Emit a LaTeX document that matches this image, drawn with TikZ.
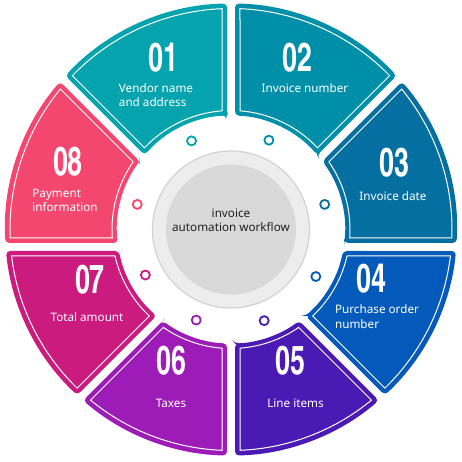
\documentclass[tikz,border=0pt]{standalone}
\usepackage{fontspec}
\setmainfont{Noto Sans}
\newfontfamily\numfont{texgyreheroscn-bold.otf}

\definecolor{c01}{HTML}{04A3AD}
\definecolor{c02}{HTML}{008FA9}
\definecolor{c03}{HTML}{066FA2}
\definecolor{c04}{HTML}{045ABA}
\definecolor{c05}{HTML}{4B19B4}
\definecolor{c06}{HTML}{9D1BB6}
\definecolor{c07}{HTML}{CC1B7E}
\definecolor{c08}{HTML}{F3476F}
\definecolor{hubring}{HTML}{EDEDED}
\definecolor{hubedge}{HTML}{D2D2D2}
\definecolor{hubcore}{HTML}{D9D9D9}
\definecolor{ink}{HTML}{222222}

% corner of a ring piece: name, line angle, side, offset, radius
\newcommand{\ringpt}[5]{%
  \pgfmathsetmacro\rqx{0-(#3)*(#4)*sin(#2)}%
  \pgfmathsetmacro\rqy{-1.75+(#3)*(#4)*cos(#2)}%
  \pgfmathsetmacro\rqb{\rqx*cos(#2)+\rqy*sin(#2)}%
  \pgfmathsetmacro\rqt{0-(\rqb)+sqrt((\rqb)*(\rqb)-(\rqx)*(\rqx)-(\rqy)*(\rqy)+(#5)*(#5))}%
  \pgfmathsetmacro\rpx{\rqx+\rqt*cos(#2)}%
  \pgfmathsetmacro\rpy{\rqy+\rqt*sin(#2)}%
  \pgfmathsetmacro\rpa{atan2(\rpy,\rpx)}%
  \expandafter\let\csname ang#1\endcsname\rpa
  \coordinate (#1) at (\rpx,\rpy);}

% one ring piece: start angle, inset, path options
\newcommand{\ringseg}[3]{%
  \pgfmathsetmacro\rout{22.6-(#2)}%
  \pgfmathsetmacro\rin{11.4+(#2)}%
  \ringpt{si}{#1}{1}{0.4+(#2)}{\rin}%
  \ringpt{so}{#1}{1}{0.4+(#2)}{\rout}%
  \ringpt{eo}{#1+45}{-1}{0.4+(#2)}{\rout}%
  \ringpt{ei}{#1+45}{-1}{0.4+(#2)}{\rin}%
  \pgfmathsetmacro\outend{(\angeo<\angso) ? (\angeo+360) : \angeo}%
  \pgfmathsetmacro\inend{(\angsi>\angei) ? (\angsi-360) : \angsi}%
  \path[#3] (si) -- (so) arc[start angle=\angso, end angle=\outend, radius=\rout]
    -- (ei) arc[start angle=\angei, end angle=\inend, radius=\rin] -- cycle;}

\begin{document}
\begin{tikzpicture}[x=10pt,y=10pt]
  \tikzstyle{num}=[text=white,inner sep=0pt,font=\numfont\fontsize{40}{40}\selectfont]
  \tikzstyle{lab}=[text=white,align=left,inner sep=0pt,font=\fontsize{11.7}{14.5}\selectfont]
  \tikzstyle{dot}=[circle,draw,fill=white,line width=1.8pt,minimum size=9pt,inner sep=0pt]

  \useasboundingbox (-23.1,-23.25) rectangle (23.0,22.95);

  % ring
  \foreach \a/\col in {90/c01,45/c02,0/c03,-45/c04,-90/c05,-135/c06,180/c07,135/c08}{
    \ringseg{\a}{0}{fill=\col,rounded corners=4pt}
    \ringseg{\a}{0.5}{draw=white,line width=1pt}
  }

  % hub
  \fill[hubring,draw=hubedge,line width=1.2pt] (0,0) circle[radius=7.85];
  \fill[hubcore] (0,0) circle[radius=6.5];
  \node[text=ink,align=center,font=\fontsize{11.7}{14.5}\selectfont] (title) at (0,0.95)
    {invoice\\automation workflow};

  % small rings
  \foreach \ang/\col [count=\i] in {114/c01,67/c02,15/c03,-29/c04,-70/c05,-111/c06,-152/c07,165/c08}
    \node[dot,draw=\col] (dot\i) at (\ang:9.7) {};

  % numbers
  \node[num] (num1) at (-6.8,17.15)  {\scalebox{0.82}[1]{01}};
  \node[num] (num2) at (6.6,17.15)   {\scalebox{0.82}[1]{02}};
  \node[num] (num3) at (16.3,6.65)   {\scalebox{0.82}[1]{03}};
  \node[num] (num4) at (14.0,-4.95)  {\scalebox{0.82}[1]{04}};
  \node[num] (num5) at (5.9,-13.15)  {\scalebox{0.82}[1]{05}};
  \node[num] (num6) at (-6.0,-13.15) {\scalebox{0.82}[1]{06}};
  \node[num] (num7) at (-14.1,-5.05) {\scalebox{0.82}[1]{07}};
  \node[num] (num8) at (-16.3,6.75)  {\scalebox{0.82}[1]{08}};

  % labels
  \node[lab] (lab1) at (-7.5,13.45)  {Vendor name\\and address};
  \node[lab] (lab2) at (7.4,14.15)   {Invoice number};
  \node[lab] (lab3) at (16.2,3.35)   {Invoice date};
  \node[lab] (lab4) at (14.6,-8.7)   {Purchase order\\number};
  \node[lab] (lab5) at (6.45,-17.35) {Line items};
  \node[lab] (lab6) at (-6.0,-17.35) {Taxes};
  \node[lab] (lab7) at (-14.4,-8.75) {Total amount};
  \node[lab] (lab8) at (-16.6,2.9)   {Payment\\information};
\end{tikzpicture}
\end{document}
